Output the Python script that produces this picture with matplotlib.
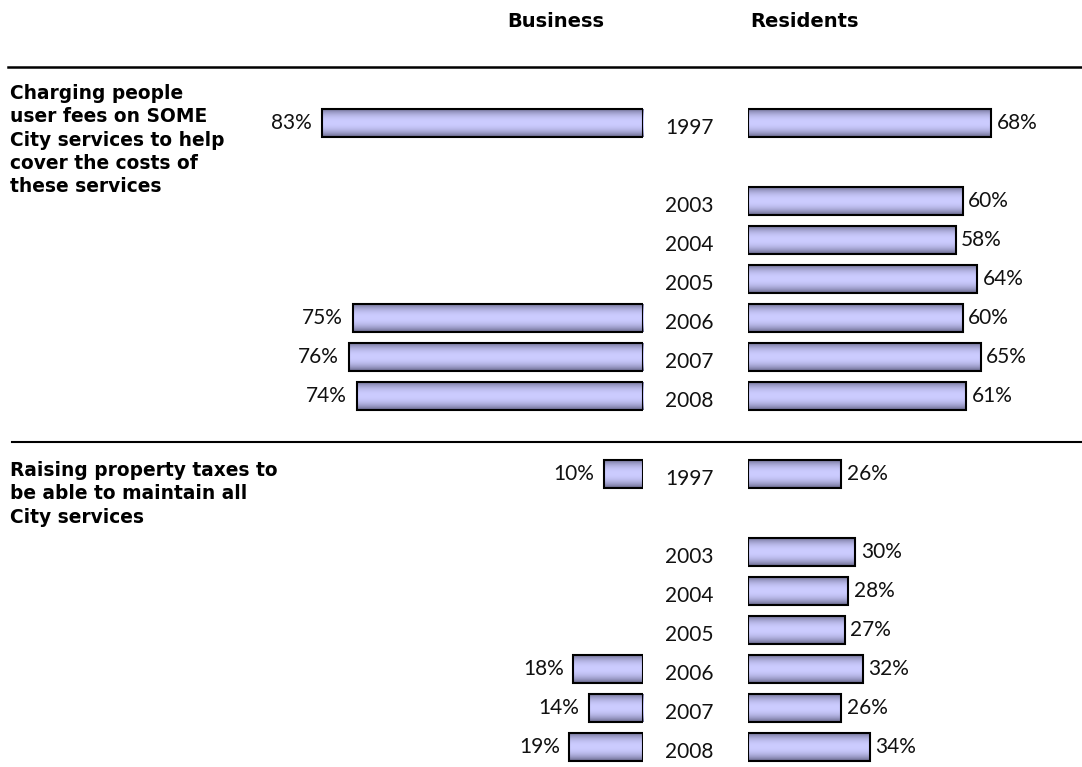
import matplotlib.pyplot as plt
import numpy as np

# survey results, % support
years = ['1997', '2003', '2004', '2005', '2006', '2007', '2008']
fees_business = [83, None, None, None, 75, 76, 74]
fees_residents = [68, 60, 58, 64, 60, 65, 61]
tax_business = [10, None, None, None, 18, 14, 19]
tax_residents = [26, 30, 28, 27, 32, 26, 34]

questions = ['Charging people\nuser fees on SOME\nCity services to help\ncover the costs of\nthese services',
             'Raising property taxes to\nbe able to maintain all\nCity services']

W, H = 1082, 767
fig = plt.figure(figsize=(W / 100, H / 100), dpi=100)

# rows: 1997 then a gap of one row before 2003..2008, a spacer row between questions
row_pos = [0, 2, 3, 4, 5, 6, 7]
sec_offset = 9
bar_h = 0.72
ylim = (16.51, -3.154)
num_font = 'Lato'

def px_to_row(py):
    return (py - 123) / 39.0

bg = fig.add_axes([0, 0, 1, 1])
bg.set_xlim(0, W)
bg.set_ylim(*ylim)
bg.axis('off')

axb = fig.add_axes([250 / W, 0, 393 / W, 1])
axb.set_xlim(393 / 3.87, 0)
axb.set_ylim(*ylim)
axb.axis('off')

axr = fig.add_axes([748 / W, 0, 334 / W, 1])
axr.set_xlim(0, 334 / 3.58)
axr.set_ylim(*ylim)
axr.axis('off')

# vertical shading: dark edges, light middle
t = np.linspace(-1, 1, 64)
shade = 1 - np.abs(t) ** 2.2
light = np.array([0.80, 0.80, 1.0])
dark = np.array([0.40, 0.40, 0.54])
grad = dark[None, :] + (light - dark)[None, :] * shade[:, None]
grad = grad[:, None, :]

def draw_bars(ax, vals, offset, side):
    for yr, p, v in zip(years, row_pos, vals):
        if v is None:
            continue
        y = p + offset
        b = ax.barh(y, v, height=bar_h, left=0, color='none', edgecolor='black', lw=1.5, zorder=3)[0]
        im = ax.imshow(grad, extent=(0, v, y + bar_h / 2, y - bar_h / 2), aspect='auto',
                       interpolation='bilinear', zorder=2)
        im.set_clip_path(b)
        if side == 'left':
            ax.annotate(f'{v}%', (v, y), xytext=(-7, 0), textcoords='offset points',
                        ha='right', va='center', fontsize=15, family=num_font, color='#111111')
        else:
            ax.annotate(f'{v}%', (v, y), xytext=(4, 0), textcoords='offset points',
                        ha='left', va='center', fontsize=15, family=num_font, color='#111111')
    ax.set_ylim(*ylim)

draw_bars(axb, fees_business, 0, 'left')
draw_bars(axr, fees_residents, 0, 'right')
draw_bars(axb, tax_business, sec_offset, 'left')
draw_bars(axr, tax_residents, sec_offset, 'right')

for offset in (0, sec_offset):
    for yr, p in zip(years, row_pos):
        bg.text(665, p + offset + 0.12, yr, ha='left', va='center', fontsize=15,
                family=num_font, color='#111111')

# headers and separators
bg.text(556, px_to_row(21), 'Business', ha='center', va='center', fontsize=14, fontweight='bold')
bg.text(805, px_to_row(21), 'Residents', ha='center', va='center', fontsize=14, fontweight='bold')
bg.plot([8, W], [px_to_row(67)] * 2, color='black', lw=1.8)
bg.plot([12, W], [px_to_row(442)] * 2, color='black', lw=1.5)

bg.text(10, px_to_row(84), questions[0], ha='left', va='top', fontsize=13.4,
        fontweight='bold', linespacing=1.29)
bg.text(10, px_to_row(461), questions[1], ha='left', va='top', fontsize=13.4,
        fontweight='bold', linespacing=1.29)

plt.savefig('out.png', dpi=100, facecolor='white')
